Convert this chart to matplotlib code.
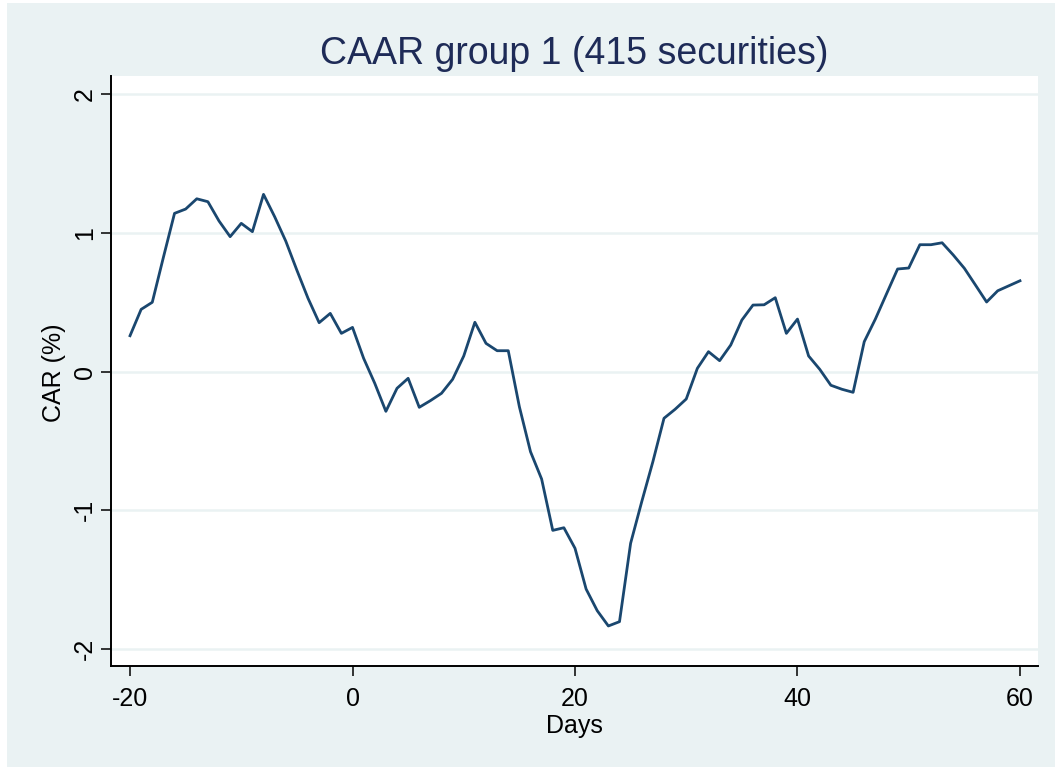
import matplotlib
matplotlib.use("Agg")
import matplotlib.pyplot as plt
from matplotlib.patches import Rectangle

days = list(range(-20, 61))
car = [0.258, 0.448, 0.499, 0.823, 1.140, 1.171, 1.245, 1.224, 1.085, 0.972,
       1.068, 1.008, 1.277, 1.116, 0.940, 0.730, 0.528, 0.352, 0.419, 0.275,
       0.318, 0.095, -0.085, -0.287, -0.121, -0.049, -0.258, -0.210, -0.157, -0.056,
       0.112, 0.355, 0.203, 0.150, 0.150, -0.254, -0.578, -0.775, -1.145, -1.126,
       -1.274, -1.568, -1.724, -1.834, -1.803, -1.238, -0.938, -0.650, -0.337, -0.272,
       -0.198, 0.023, 0.143, 0.078, 0.191, 0.371, 0.479, 0.481, 0.532, 0.275,
       0.378, 0.112, 0.016, -0.099, -0.128, -0.150, 0.215, 0.378, 0.559, 0.739,
       0.746, 0.914, 0.914, 0.928, 0.840, 0.744, 0.623, 0.501, 0.582, 0.618,
       0.654]
xticks = [-20, 0, 20, 40, 60]
yticks = [-2, -1, 0, 1, 2]
title = "CAAR group 1 (415 securities)"
xlabel = "Days"
ylabel = "CAR (%)"

bg = "#EAF2F3"
navy = "#1a476f"
plt.rcParams['font.family'] = ['Liberation Sans', 'DejaVu Sans']
plt.rcParams['axes.unicode_minus'] = False

W, H = 1055, 769
fig = plt.figure(figsize=(W / 100, H / 100), dpi=100, facecolor="white")
fig.patches.append(Rectangle((7 / W, 2 / H), 1 - 7 / W, 1 - 5 / H, transform=fig.transFigure,
                             facecolor=bg, edgecolor="none", zorder=-10))

ax = fig.add_axes([111 / W, 1 - 666 / H, (1038 - 111) / W, (666 - 76) / H])
ax.set_facecolor("white")
ax.plot(days, car, color=navy, lw=2.0, zorder=3)

ax.set_xlim(-21.71, 61.62)
ax.set_ylim(-2.1225, 2.13)
ax.set_xticks(xticks)
ax.set_yticks(yticks)
ax.set_xticklabels([str(v) for v in xticks])
ax.set_yticklabels([str(v) for v in yticks], rotation=90, va="center")
ax.grid(axis="y", color=bg, lw=1.8, zorder=1)
ax.grid(axis="x", visible=False)

for s in ["top", "right"]:
    ax.spines[s].set_visible(False)
for s in ["left", "bottom"]:
    ax.spines[s].set_color("black")
    ax.spines[s].set_linewidth(1.4)

ax.tick_params(axis="both", direction="out", length=7.2, width=1.1, color="black",
               labelsize=18, labelcolor="black")
ax.tick_params(axis="x", pad=8)
ax.tick_params(axis="y", pad=3)

cx = (111 + 1038) / 2 / W
fig.text(cx, 1 - 733 / H, xlabel, ha="center", va="baseline", fontsize=18, color="black")
fig.text(61.5 / W, 1 - 373 / H, ylabel, ha="center", va="baseline", rotation=90,
         rotation_mode="anchor", fontsize=18, color="black")
fig.text(cx, 1 - 63.5 / H, title, ha="center", va="baseline",
         fontsize=27, color="#1e2b57")

fig.savefig("out.png", dpi=100, facecolor=fig.get_facecolor())
